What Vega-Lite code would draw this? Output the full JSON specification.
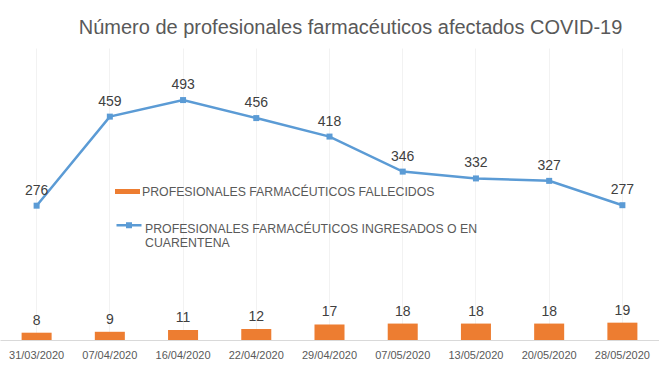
{
  "$schema": "https://vega.github.io/schema/vega-lite/v6.json",
  "width": 659,
  "height": 292,
  "autosize": {"type": "none"},
  "padding": {"top": 48, "left": 0, "right": 0, "bottom": 31},
  "background": "white",
  "title": {
    "text": "Número de profesionales farmacéuticos afectados COVID-19",
    "font": "Liberation Sans",
    "fontSize": 20,
    "fontWeight": "normal",
    "color": "#595959",
    "anchor": "middle",
    "baseline": "alphabetic",
    "dx": 21,
    "offset": -6
  },
  "config": {
    "view": {"stroke": null},
    "font": "Liberation Sans",
    "legend": {"labelFont": "Liberation Sans", "labelFontSize": 12.3, "labelColor": "#595959", "labelLimit": 500}
  },
  "data": {
    "values": [
      {"fecha": "31/03/2020", "ingresados": 276, "fallecidos": 8},
      {"fecha": "07/04/2020", "ingresados": 459, "fallecidos": 9},
      {"fecha": "16/04/2020", "ingresados": 493, "fallecidos": 11},
      {"fecha": "22/04/2020", "ingresados": 456, "fallecidos": 12},
      {"fecha": "29/04/2020", "ingresados": 418, "fallecidos": 17},
      {"fecha": "07/05/2020", "ingresados": 346, "fallecidos": 18},
      {"fecha": "13/05/2020", "ingresados": 332, "fallecidos": 18},
      {"fecha": "20/05/2020", "ingresados": 327, "fallecidos": 18},
      {"fecha": "28/05/2020", "ingresados": 277, "fallecidos": 19}
    ]
  },
  "encoding": {
    "x": {
      "field": "fecha",
      "type": "ordinal",
      "sort": null,
      "scale": {"paddingInner": 0, "paddingOuter": 0},
      "axis": {
        "title": null,
        "labelAngle": 0,
        "labelFontSize": 11,
        "labelColor": "#595959",
        "ticks": false,
        "domainColor": "#d9d9d9",
        "labelPadding": 9,
        "grid": true,
        "gridColor": "#f2f2f2"
      }
    }
  },
  "layer": [
    {
      "encoding": {
        "y": {"field": "fallecidos", "type": "quantitative", "scale": {"domain": [0, 320]}, "axis": null}
      },
      "layer": [
        {
          "mark": {"type": "bar", "width": {"band": 0.41}},
          "encoding": {
            "color": {
              "datum": "PROFESIONALES FARMACÉUTICOS FALLECIDOS",
              "type": "nominal",
              "scale": {"range": ["#ED7D31"]},
              "legend": {
                "title": null,
                "orient": "none",
                "legendX": 115,
                "legendY": 131,
                "symbolType": "M-1,-0.2H1V0.2H-1Z",
                "symbolSize": 625,
                "symbolStrokeWidth": 0,
                "labelOffset": 2
              }
            }
          }
        },
        {
          "mark": {"type": "text", "baseline": "bottom", "dy": -5, "fontSize": 14, "color": "#404040"},
          "encoding": {"text": {"field": "fallecidos", "type": "quantitative"}}
        }
      ]
    },
    {
      "encoding": {
        "y": {
          "field": "ingresados",
          "type": "quantitative",
          "scale": {"domain": [0, 600]},
          "axis": {
            "title": null,
            "labels": false,
            "ticks": false,
            "domain": false,
            "gridColor": "#d9d9d9",
            "values": [0, 100, 200, 300, 400, 500, 600]
          }
        }
      },
      "layer": [
        {
          "mark": {"type": "line", "strokeWidth": 2.5},
          "encoding": {
            "stroke": {
              "datum": "PROFESIONALES FARMACÉUTICOS INGRESADOS O EN CUARENTENA",
              "type": "nominal",
              "scale": {"range": ["#5B9BD5"]},
              "legend": {
                "title": null,
                "orient": "none",
                "legendX": 115,
                "legendY": 167,
                "symbolType": "M-1,-0.3H1M-0.14,-0.44H0.14V-0.16H-0.14Z",
                "symbolSize": 625,
                "symbolStrokeWidth": 2.5,
                "symbolFillColor": "#5B9BD5",
                "labelOffset": 2,
                "labelExpr": "['PROFESIONALES FARMACÉUTICOS INGRESADOS O EN', 'CUARENTENA']"
              }
            }
          }
        },
        {
          "mark": {"type": "point", "shape": "square", "filled": true, "size": 36, "color": "#5B9BD5", "opacity": 1}
        },
        {
          "mark": {"type": "text", "baseline": "bottom", "dy": -8, "fontSize": 14, "color": "#404040"},
          "encoding": {"text": {"field": "ingresados", "type": "quantitative"}}
        }
      ]
    }
  ],
  "resolve": {"scale": {"y": "independent"}}
}
